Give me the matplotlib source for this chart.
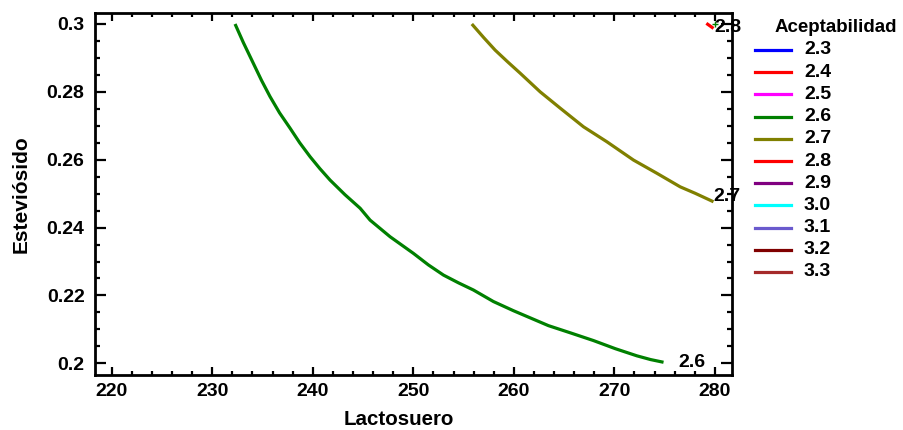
import matplotlib
matplotlib.use("Agg")
import matplotlib.pyplot as plt
from matplotlib.lines import Line2D
from matplotlib.ticker import MultipleLocator

plt.rcParams['font.family'] = ['Liberation Sans', 'DejaVu Sans']
plt.rcParams['font.weight'] = 'bold'

# Contour levels of acceptability and their colours
levels = ['2.3', '2.4', '2.5', '2.6', '2.7', '2.8', '2.9', '3.0', '3.1', '3.2', '3.3']
colors = ['#0000ff', '#ff0000', '#ff00ff', '#008000', '#808000', '#ff0000',
          '#800080', '#00ffff', '#6a5acd', '#800000', '#a52a2a']

# Contour 2.6
lact_26 = [232.27, 233.10, 234.09, 234.90, 235.75, 236.70, 237.74, 238.70, 239.73,
           240.70, 241.72, 243.20, 244.71, 245.70, 247.69, 250.01, 251.50, 253.00,
           254.50, 255.98, 257.97, 259.96, 261.70, 263.44, 265.70, 267.92, 270.10,
           272.24, 273.60, 274.89]
stev_26 = [0.3000, 0.2945, 0.2884, 0.2834, 0.2786, 0.2738, 0.2693, 0.2650, 0.2609,
           0.2574, 0.2540, 0.2497, 0.2457, 0.2422, 0.2373, 0.2324, 0.2290, 0.2260,
           0.2237, 0.2216, 0.2182, 0.2155, 0.2133, 0.2111, 0.2089, 0.2067, 0.2043,
           0.2022, 0.2011, 0.2003]

# Contour 2.7
lact_27 = [255.82, 257.00, 258.14, 259.40, 260.63, 262.62, 264.61, 266.93, 269.25,
           271.90, 274.23, 276.55, 278.04, 279.86]
stev_27 = [0.3000, 0.2960, 0.2923, 0.2888, 0.2855, 0.2800, 0.2752, 0.2697, 0.2653,
           0.2599, 0.2560, 0.2520, 0.2501, 0.2476]

# Contour 2.8 (small corner piece)
lact_28 = [279.15, 279.86]
stev_28 = [0.3002, 0.2987]

fig = plt.figure(figsize=(9.04, 4.30), dpi=100)
ax = fig.add_axes([95 / 904, 1 - 375 / 430, 637 / 904, 362 / 430])

lw = 2.3
ax.plot(lact_26, stev_26, color=colors[3], lw=lw, solid_capstyle='butt')
ax.plot(lact_27, stev_27, color=colors[4], lw=lw, solid_capstyle='butt')
ax.plot(lact_28, stev_28, color=colors[5], lw=lw, solid_capstyle='butt')
ax.plot([280.05], [0.2999], marker='+', color=colors[3], ms=5, mew=1)

lab_kw = dict(fontsize=14, fontweight='bold', color='black', va='center', ha='left',
              textcoords='offset points', annotation_clip=False)
ax.annotate('2.6', (lact_26[-1], stev_26[-1]), xytext=(10.5, 0), **lab_kw)
ax.annotate('2.7', (lact_27[-1], stev_27[-1]), xytext=(0, 3.5), **lab_kw)
ax.annotate('2.8', (lact_28[-1], stev_28[-1]), xytext=(0.5, 0.5), **lab_kw)

ax.set_xlim(218.34, 281.7)
ax.set_ylim(0.19655, 0.30324)
ax.xaxis.set_major_locator(MultipleLocator(10))
ax.xaxis.set_minor_locator(MultipleLocator(2))
ax.yaxis.set_major_locator(MultipleLocator(0.02))
ax.yaxis.set_minor_locator(MultipleLocator(0.005))
ax.yaxis.set_major_formatter(plt.FuncFormatter(lambda v, p: ('%g' % round(v, 3))))

for s in ax.spines.values():
    s.set_linewidth(2)
ax.tick_params(axis='both', which='both', direction='in', top=True, right=True,
               width=1.6, labelsize=14)
ax.tick_params(axis='x', which='major', length=5.5, pad=6)
ax.tick_params(axis='x', which='minor', length=2.6)
ax.tick_params(axis='y', which='major', length=8, pad=7.5)
ax.tick_params(axis='y', which='minor', length=3.6)
for t in ax.get_xticklabels() + ax.get_yticklabels():
    t.set_fontweight('bold')

ax.set_xlabel('Lactosuero', fontsize=14.8, fontweight='bold')
ax.set_ylabel('Esteviósido', fontsize=15, fontweight='bold')
ax.xaxis.set_label_coords((399 - 95) / 637, -0.097)
ax.yaxis.set_label_coords(-0.101, 0.5)

# Legend of contour levels
W, H = 904.0, 430.0
fig.text(775 / W, 1 - 27 / H, 'Aceptabilidad', fontsize=13.5, fontweight='bold',
         ha='left', va='center')
for i, (lev, c) in enumerate(zip(levels, colors)):
    y = 1 - (50 + 22.2 * i) / H
    fig.add_artist(Line2D([755 / W, 791 / W], [y, y], color=c, lw=2.3,
                          transform=fig.transFigure))
    fig.text(804 / W, y, lev, fontsize=14, fontweight='bold', ha='left', va='center')

fig.savefig('out.png', dpi=100)
